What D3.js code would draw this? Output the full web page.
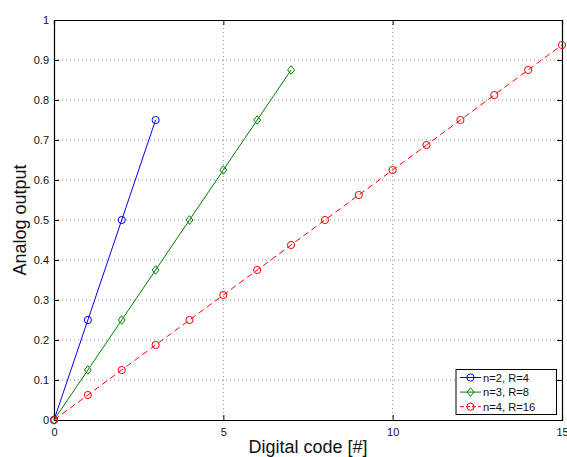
<!DOCTYPE html>
<html>
<head>
<meta charset="utf-8">
<script src="https://cdn.jsdelivr.net/npm/d3@7"></script>
<style>
  html, body { margin: 0; padding: 0; background: #fff; }
  svg { display: block; font-family: "Liberation Sans", Arial, Helvetica, sans-serif; }
</style>
</head>
<body>
<svg id="chart" width="567" height="457"></svg>
<script>
// Transfer curves of an ideal DAC for different resolutions
const codes2 = [0, 1, 2, 3];
const out2 = [0, 0.25, 0.5, 0.75];
const codes3 = [0, 1, 2, 3, 4, 5, 6, 7];
const out3 = [0, 0.125, 0.25, 0.375, 0.5, 0.625, 0.75, 0.875];
const codes4 = [0, 1, 2, 3, 4, 5, 6, 7, 8, 9, 10, 11, 12, 13, 14, 15];
const out4 = [0, 0.0625, 0.125, 0.1875, 0.25, 0.3125, 0.375, 0.4375, 0.5, 0.5625, 0.625, 0.6875, 0.75, 0.8125, 0.875, 0.9375];
const seriesNames = ["n=2, R=4", "n=3, R=8", "n=4, R=16"];
const xTicks = [0, 5, 10, 15];
const yTicks = [0, 0.1, 0.2, 0.3, 0.4, 0.5, 0.6, 0.7, 0.8, 0.9, 1];
const xTitle = "Digital code [#]";
const yTitle = "Analog output";

const svg = d3.select("#chart");
const L = 54, R = 562, T = 20, B = 420;
const x = d3.scaleLinear().domain([0, 15]).range([L, R]);
const y = d3.scaleLinear().domain([0, 1]).range([B, T]);

// grid
const grid = svg.append("g").attr("stroke", "#444").attr("stroke-width", 0.6).attr("stroke-dasharray", "1,3");
grid.selectAll(".gx").data(xTicks.slice(1, -1)).join("line")
  .attr("x1", d => x(d)).attr("x2", d => x(d)).attr("y1", T).attr("y2", B);
grid.selectAll(".gy").data(yTicks.slice(1, -1)).join("line")
  .attr("x1", L).attr("x2", R).attr("y1", d => y(d)).attr("y2", d => y(d));

// axes with inward ticks
const fmt = d => d3.format("~g")(d);
svg.append("g").attr("transform", `translate(0,${B})`)
  .call(d3.axisBottom(x).tickValues(xTicks).tickSize(-5).tickPadding(8).tickFormat(fmt));
svg.append("g").attr("transform", `translate(0,${T})`)
  .call(d3.axisTop(x).tickValues(xTicks).tickSize(-5).tickFormat(""));
svg.append("g").attr("transform", `translate(${L},0)`)
  .call(d3.axisLeft(y).tickValues(yTicks).tickSize(-5).tickPadding(5).tickFormat(fmt));
svg.append("g").attr("transform", `translate(${R},0)`)
  .call(d3.axisRight(y).tickValues(yTicks).tickSize(-5).tickFormat(""));
svg.selectAll(".domain").attr("stroke", "#000").attr("stroke-width", 1.2);
svg.selectAll(".tick line").attr("stroke", "#000");
svg.selectAll(".tick text").attr("font-size", 11).attr("fill", "#111")
  .attr("font-family", "'Liberation Sans', Arial, sans-serif");

// axis titles
svg.append("text").attr("x", (L + R) / 2).attr("y", 453).attr("text-anchor", "middle")
  .attr("font-size", 18).attr("fill", "#111").text(xTitle);
svg.append("text").attr("transform", `translate(26,${(T + B) / 2}) rotate(-90)`)
  .attr("text-anchor", "middle").attr("font-size", 18).attr("fill", "#111").text(yTitle);

const series = [
  { xs: codes2, ys: out2, color: "#0000ff", dash: null, marker: "circle" },
  { xs: codes3, ys: out3, color: "#008000", dash: null, marker: "diamond" },
  { xs: codes4, ys: out4, color: "#ff0000", dash: "6,4", marker: "circle" }
];

function drawMarker(g, type, cx, cy, color) {
  if (type === "circle") {
    g.append("circle").attr("cx", cx).attr("cy", cy).attr("r", 3.6)
      .attr("fill", "none").attr("stroke", color).attr("stroke-width", 1);
  } else {
    const s = 4.3;
    g.append("path").attr("d", `M${cx},${cy - s}L${cx + s * 0.8},${cy}L${cx},${cy + s}L${cx - s * 0.8},${cy}Z`)
      .attr("fill", "none").attr("stroke", color).attr("stroke-width", 1);
  }
}

const line = d3.line().x(d => x(d[0])).y(d => y(d[1]));
series.forEach(s => {
  const pts = s.xs.map((v, i) => [v, s.ys[i]]);
  svg.append("path").datum(pts).attr("d", line).attr("fill", "none")
    .attr("stroke", s.color).attr("stroke-width", 1)
    .attr("stroke-dasharray", s.dash);
  const g = svg.append("g");
  pts.forEach(p => drawMarker(g, s.marker, x(p[0]), y(p[1]), s.color));
});

// legend
const lg = svg.append("g");
lg.append("rect").attr("x", 456).attr("y", 369.5).attr("width", 100.5).attr("height", 45)
  .attr("fill", "#fff").attr("stroke", "#000").attr("stroke-width", 1);
series.forEach((s, i) => {
  const yy = 377.5 + i * 14.6;
  lg.append("line").attr("x1", 460).attr("x2", 481).attr("y1", yy).attr("y2", yy)
    .attr("stroke", s.color).attr("stroke-width", 1).attr("stroke-dasharray", s.dash ? "4,2" : null);
  drawMarker(lg, s.marker, 470.5, yy, s.color);
  lg.append("text").attr("x", 483).attr("y", yy + 4).attr("font-size", 11.2).attr("fill", "#111")
    .text(seriesNames[i]);
});
</script>
</body>
</html>
